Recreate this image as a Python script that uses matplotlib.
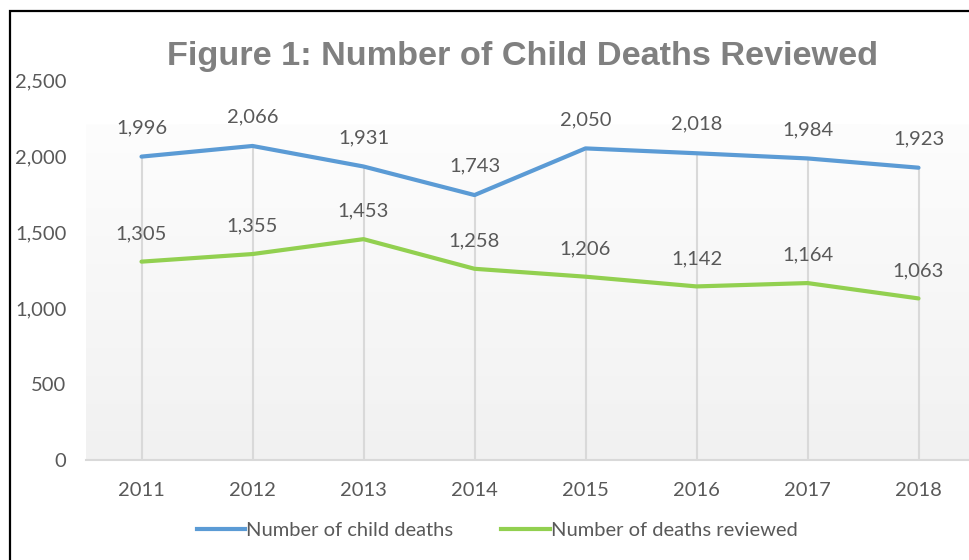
import matplotlib

matplotlib.use("Agg")
import matplotlib.pyplot as plt
import numpy as np
from matplotlib.colors import LinearSegmentedColormap
from matplotlib.lines import Line2D
from matplotlib.patches import Rectangle

years = ["2011", "2012", "2013", "2014", "2015", "2016", "2017", "2018"]
child_deaths = [1996, 2066, 1931, 1743, 2050, 2018, 1984, 1923]
deaths_reviewed = [1305, 1355, 1453, 1258, 1206, 1142, 1164, 1063]
series_names = ["Number of child deaths", "Number of deaths reviewed"]

BLUE = "#5B9BD5"
GREEN = "#92D050"
TEXT = "#595959"
GRID = "#D9D9D9"

plt.rcParams["font.family"] = ["Lato", "DejaVu Sans"]

W, H = 969, 560
fig = plt.figure(figsize=(W / 100, H / 100), dpi=100)

# outer border (right/bottom edges fall outside the crop)
fig.patches.append(Rectangle((9.5 / W, -0.1), 1.2, 1 - 11 / H + 0.1, transform=fig.transFigure,
                             fill=False, edgecolor="black", linewidth=1.6))

ax = fig.add_axes([86 / W, 1 - 460 / H, 888 / W, 380 / H])
x = np.arange(len(years))
ax.set_xlim(-0.5, len(years) - 0.5)
ax.set_ylim(0, 2500)

# plot area gradient, light grey at bottom fading to white
grad_top = (460 - 125) / 380 * 2500
ax.imshow(np.linspace(0, 1, 256).reshape(-1, 1), extent=[-0.5, len(years) - 0.5, 0, grad_top],
          aspect="auto", origin="lower", zorder=0,
          cmap=LinearSegmentedColormap.from_list("g", ["#F1F1F1", "#FDFDFD"]))

# drop lines from the highest series to the axis
tops = np.maximum(child_deaths, deaths_reviewed)
ax.vlines(x, 0, tops, color=GRID, linewidth=1.5, zorder=1)

ax.plot(x, child_deaths, color=BLUE, linewidth=3, solid_capstyle="round", zorder=3)
ax.plot(x, deaths_reviewed, color=GREEN, linewidth=3, solid_capstyle="round", zorder=3)

for xi, v in zip(x, child_deaths):
    ax.annotate(f"{v:,}", (xi, v), xytext=(0, 29), textcoords="offset pixels",
                ha="center", va="center", fontsize=14.5, color=TEXT)
for xi, v in zip(x, deaths_reviewed):
    ax.annotate(f"{v:,}", (xi, v), xytext=(0, 28), textcoords="offset pixels",
                ha="center", va="center", fontsize=14.5, color=TEXT)

for side in ["top", "right", "left"]:
    ax.spines[side].set_visible(False)
ax.spines["bottom"].set_color(GRID)
ax.spines["bottom"].set_linewidth(1.5)

ax.set_xticks(x)
ax.set_xticklabels(years)
ax.set_yticks(np.arange(0, 2501, 500))
ax.set_yticklabels([f"{t:,}" for t in range(0, 2501, 500)])
ax.tick_params(axis="x", length=0, pad=16, labelsize=14.5, labelcolor=TEXT)
ax.tick_params(axis="y", length=0, pad=14, labelsize=14.5, labelcolor=TEXT)

fig.text(523 / W, 1 - 56 / H, "Figure 1: Number of Child Deaths Reviewed",
         ha="center", va="center", fontsize=24.7, fontweight="bold", color="#808080",
         family="Liberation Sans")

handles = [Line2D([], [], color=BLUE, linewidth=3), Line2D([], [], color=GREEN, linewidth=3)]
fig.legend(handles, series_names, loc="center", bbox_to_anchor=(497 / W, 1 - 530 / H),
           ncol=2, frameon=False, fontsize=14.5, labelcolor=TEXT, handlelength=2.4,
           handletextpad=0.05, columnspacing=2.4)

fig.savefig("out.png", dpi=100)
